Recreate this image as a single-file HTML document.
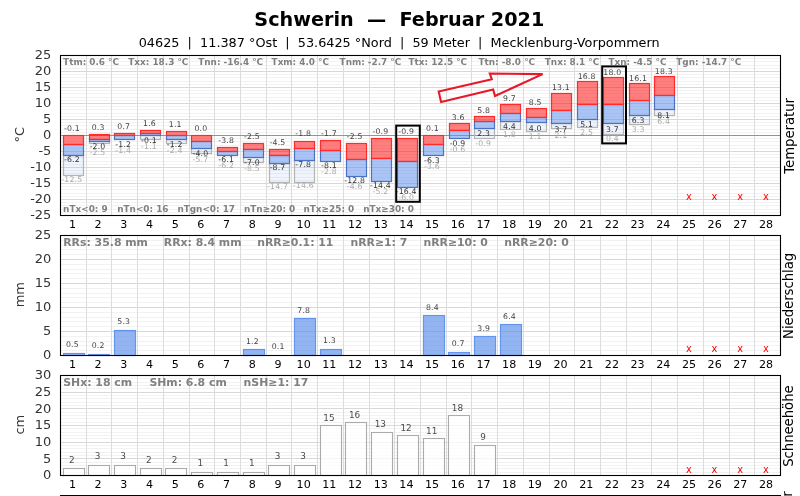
<!DOCTYPE html>
<html lang="de"><head><meta charset="utf-8"><title>Schwerin — Februar 2021</title>
<style>html,body{margin:0;padding:0;background:#fff;overflow:hidden}svg{display:block;will-change:transform}text{font-family:'DejaVu Sans', 'Liberation Sans', sans-serif}</style>
</head><body>
<svg width="800" height="496" viewBox="0 0 800 496">
<rect width="800" height="496" fill="#fff"/>
<text x="399.3" y="26" font-size="19.2" font-weight="bold" fill="#000" text-anchor="middle" xml:space="preserve">Schwerin  —  Februar 2021</text>
<text x="399.2" y="46.6" font-size="12.82" fill="#000" text-anchor="middle" xml:space="preserve">04625  |  11.387 °Ost  |  53.6425 °Nord  |  59 Meter  |  Mecklenburg-Vorpommern</text>
<path d="M60.5 212.5H780.5M60.5 209.5H780.5M60.5 205.5H780.5M60.5 202.5H780.5M60.5 196.5H780.5M60.5 193.5H780.5M60.5 189.5H780.5M60.5 186.5H780.5M60.5 180.5H780.5M60.5 177.5H780.5M60.5 173.5H780.5M60.5 170.5H780.5M60.5 164.5H780.5M60.5 161.5H780.5M60.5 157.5H780.5M60.5 154.5H780.5M60.5 148.5H780.5M60.5 145.5H780.5M60.5 141.5H780.5M60.5 138.5H780.5M60.5 132.5H780.5M60.5 129.5H780.5M60.5 125.5H780.5M60.5 122.5H780.5M60.5 116.5H780.5M60.5 113.5H780.5M60.5 109.5H780.5M60.5 106.5H780.5M60.5 100.5H780.5M60.5 97.5H780.5M60.5 93.5H780.5M60.5 90.5H780.5M60.5 84.5H780.5M60.5 81.5H780.5M60.5 77.5H780.5M60.5 74.5H780.5M60.5 68.5H780.5M60.5 65.5H780.5M60.5 61.5H780.5M60.5 58.5H780.5" stroke="#f2f2f2" stroke-width="1" fill="none"/>
<path d="M60.5 199.5H780.5M60.5 183.5H780.5M60.5 167.5H780.5M60.5 151.5H780.5M60.5 135.5H780.5M60.5 119.5H780.5M60.5 103.5H780.5M60.5 87.5H780.5M60.5 71.5H780.5" stroke="#d8d8d8" stroke-width="1" fill="none"/>
<path d="M86.5 55.5V215.5M111.5 55.5V215.5M137.5 55.5V215.5M163.5 55.5V215.5M189.5 55.5V215.5M214.5 55.5V215.5M240.5 55.5V215.5M266.5 55.5V215.5M291.5 55.5V215.5M317.5 55.5V215.5M343.5 55.5V215.5M369.5 55.5V215.5M394.5 55.5V215.5M420.5 55.5V215.5M446.5 55.5V215.5M471.5 55.5V215.5M497.5 55.5V215.5M523.5 55.5V215.5M549.5 55.5V215.5M574.5 55.5V215.5M600.5 55.5V215.5M626.5 55.5V215.5M651.5 55.5V215.5M677.5 55.5V215.5M703.5 55.5V215.5M729.5 55.5V215.5M754.5 55.5V215.5" stroke="#dcdcdc" stroke-width="1" fill="none"/>
<path d="M60.5 135.5H780.5" stroke="#6f97e8" stroke-width="1.2" fill="none"/>
<rect x="63.5" y="155.5" width="20" height="20" fill="rgba(100,149,237,0.10)" stroke="#b4b4b4" stroke-width="1.2"/>
<rect x="89.5" y="141.5" width="20" height="2" fill="rgba(100,149,237,0.10)" stroke="#b4b4b4" stroke-width="1.2"/>
<rect x="114.5" y="139.5" width="20" height="0" fill="rgba(100,149,237,0.10)" stroke="#b4b4b4" stroke-width="1.2"/>
<rect x="140.5" y="135.5" width="20" height="4" fill="rgba(100,149,237,0.10)" stroke="#b4b4b4" stroke-width="1.2"/>
<rect x="166.5" y="139.5" width="20" height="4" fill="rgba(100,149,237,0.10)" stroke="#b4b4b4" stroke-width="1.2"/>
<rect x="191.5" y="148.5" width="20" height="5" fill="rgba(100,149,237,0.10)" stroke="#b4b4b4" stroke-width="1.2"/>
<rect x="217.5" y="155.5" width="20" height="0" fill="rgba(100,149,237,0.10)" stroke="#b4b4b4" stroke-width="1.2"/>
<rect x="243.5" y="157.5" width="20" height="5" fill="rgba(100,149,237,0.10)" stroke="#b4b4b4" stroke-width="1.2"/>
<rect x="269.5" y="163.5" width="20" height="19" fill="rgba(100,149,237,0.10)" stroke="#b4b4b4" stroke-width="1.2"/>
<rect x="294.5" y="160.5" width="20" height="22" fill="rgba(100,149,237,0.10)" stroke="#b4b4b4" stroke-width="1.2"/>
<rect x="474.5" y="128.5" width="20" height="10" fill="rgba(100,149,237,0.10)" stroke="#b4b4b4" stroke-width="1.2"/>
<rect x="500.5" y="121.5" width="20" height="8" fill="rgba(100,149,237,0.10)" stroke="#b4b4b4" stroke-width="1.2"/>
<rect x="526.5" y="122.5" width="20" height="9" fill="rgba(100,149,237,0.10)" stroke="#b4b4b4" stroke-width="1.2"/>
<rect x="551.5" y="123.5" width="20" height="5" fill="rgba(100,149,237,0.10)" stroke="#b4b4b4" stroke-width="1.2"/>
<rect x="577.5" y="119.5" width="20" height="8" fill="rgba(100,149,237,0.10)" stroke="#b4b4b4" stroke-width="1.2"/>
<rect x="603.5" y="123.5" width="20" height="11" fill="rgba(100,149,237,0.10)" stroke="#b4b4b4" stroke-width="1.2"/>
<rect x="629.5" y="115.5" width="20" height="9" fill="rgba(100,149,237,0.10)" stroke="#b4b4b4" stroke-width="1.2"/>
<rect x="654.5" y="109.5" width="20" height="6" fill="rgba(100,149,237,0.10)" stroke="#b4b4b4" stroke-width="1.2"/>
<rect x="63.5" y="144.5" width="20" height="11" fill="rgba(100,149,237,0.55)" stroke="#4b72c4" stroke-width="1.2"/>
<rect x="63.5" y="135.5" width="20" height="9" fill="rgba(255,0,0,0.5)" stroke="#ff2a2a" stroke-width="1.2"/>
<rect x="89.5" y="139.5" width="20" height="2" fill="rgba(100,149,237,0.55)" stroke="#4b72c4" stroke-width="1.2"/>
<rect x="89.5" y="134.5" width="20" height="5" fill="rgba(255,0,0,0.5)" stroke="#ff2a2a" stroke-width="1.2"/>
<rect x="114.5" y="135.5" width="20" height="4" fill="rgba(100,149,237,0.55)" stroke="#4b72c4" stroke-width="1.2"/>
<rect x="114.5" y="133.5" width="20" height="2" fill="rgba(255,0,0,0.5)" stroke="#ff2a2a" stroke-width="1.2"/>
<rect x="140.5" y="133.5" width="20" height="2" fill="rgba(100,149,237,0.55)" stroke="#4b72c4" stroke-width="1.2"/>
<rect x="140.5" y="130.5" width="20" height="3" fill="rgba(255,0,0,0.5)" stroke="#ff2a2a" stroke-width="1.2"/>
<rect x="166.5" y="135.5" width="20" height="4" fill="rgba(100,149,237,0.55)" stroke="#4b72c4" stroke-width="1.2"/>
<rect x="166.5" y="131.5" width="20" height="4" fill="rgba(255,0,0,0.5)" stroke="#ff2a2a" stroke-width="1.2"/>
<rect x="191.5" y="141.5" width="20" height="7" fill="rgba(100,149,237,0.55)" stroke="#4b72c4" stroke-width="1.2"/>
<rect x="191.5" y="135.5" width="20" height="6" fill="rgba(255,0,0,0.5)" stroke="#ff2a2a" stroke-width="1.2"/>
<rect x="217.5" y="151.5" width="20" height="4" fill="rgba(100,149,237,0.55)" stroke="#4b72c4" stroke-width="1.2"/>
<rect x="217.5" y="147.5" width="20" height="4" fill="rgba(255,0,0,0.5)" stroke="#ff2a2a" stroke-width="1.2"/>
<rect x="243.5" y="149.5" width="20" height="8" fill="rgba(100,149,237,0.55)" stroke="#4b72c4" stroke-width="1.2"/>
<rect x="243.5" y="143.5" width="20" height="6" fill="rgba(255,0,0,0.5)" stroke="#ff2a2a" stroke-width="1.2"/>
<rect x="269.5" y="155.5" width="20" height="8" fill="rgba(100,149,237,0.55)" stroke="#4b72c4" stroke-width="1.2"/>
<rect x="269.5" y="149.5" width="20" height="6" fill="rgba(255,0,0,0.5)" stroke="#ff2a2a" stroke-width="1.2"/>
<rect x="294.5" y="148.5" width="20" height="12" fill="rgba(100,149,237,0.55)" stroke="#4b72c4" stroke-width="1.2"/>
<rect x="294.5" y="141.5" width="20" height="7" fill="rgba(255,0,0,0.5)" stroke="#ff2a2a" stroke-width="1.2"/>
<rect x="320.5" y="150.5" width="20" height="11" fill="rgba(100,149,237,0.55)" stroke="#4b72c4" stroke-width="1.2"/>
<rect x="320.5" y="140.5" width="20" height="10" fill="rgba(255,0,0,0.5)" stroke="#ff2a2a" stroke-width="1.2"/>
<rect x="346.5" y="159.5" width="20" height="17" fill="rgba(100,149,237,0.55)" stroke="#4b72c4" stroke-width="1.2"/>
<rect x="346.5" y="143.5" width="20" height="16" fill="rgba(255,0,0,0.5)" stroke="#ff2a2a" stroke-width="1.2"/>
<rect x="371.5" y="158.5" width="20" height="23" fill="rgba(100,149,237,0.55)" stroke="#4b72c4" stroke-width="1.2"/>
<rect x="371.5" y="138.5" width="20" height="20" fill="rgba(255,0,0,0.5)" stroke="#ff2a2a" stroke-width="1.2"/>
<rect x="397.5" y="161.5" width="20" height="26" fill="rgba(100,149,237,0.55)" stroke="#4b72c4" stroke-width="1.2"/>
<rect x="397.5" y="138.5" width="20" height="23" fill="rgba(255,0,0,0.5)" stroke="#ff2a2a" stroke-width="1.2"/>
<rect x="423.5" y="144.5" width="20" height="11" fill="rgba(100,149,237,0.55)" stroke="#4b72c4" stroke-width="1.2"/>
<rect x="423.5" y="135.5" width="20" height="9" fill="rgba(255,0,0,0.5)" stroke="#ff2a2a" stroke-width="1.2"/>
<rect x="449.5" y="130.5" width="20" height="8" fill="rgba(100,149,237,0.55)" stroke="#4b72c4" stroke-width="1.2"/>
<rect x="449.5" y="123.5" width="20" height="7" fill="rgba(255,0,0,0.5)" stroke="#ff2a2a" stroke-width="1.2"/>
<rect x="474.5" y="121.5" width="20" height="7" fill="rgba(100,149,237,0.55)" stroke="#4b72c4" stroke-width="1.2"/>
<rect x="474.5" y="116.5" width="20" height="5" fill="rgba(255,0,0,0.5)" stroke="#ff2a2a" stroke-width="1.2"/>
<rect x="500.5" y="113.5" width="20" height="8" fill="rgba(100,149,237,0.55)" stroke="#4b72c4" stroke-width="1.2"/>
<rect x="500.5" y="104.5" width="20" height="9" fill="rgba(255,0,0,0.5)" stroke="#ff2a2a" stroke-width="1.2"/>
<rect x="526.5" y="117.5" width="20" height="5" fill="rgba(100,149,237,0.55)" stroke="#4b72c4" stroke-width="1.2"/>
<rect x="526.5" y="108.5" width="20" height="9" fill="rgba(255,0,0,0.5)" stroke="#ff2a2a" stroke-width="1.2"/>
<rect x="551.5" y="110.5" width="20" height="13" fill="rgba(100,149,237,0.55)" stroke="#4b72c4" stroke-width="1.2"/>
<rect x="551.5" y="93.5" width="20" height="17" fill="rgba(255,0,0,0.5)" stroke="#ff2a2a" stroke-width="1.2"/>
<rect x="577.5" y="104.5" width="20" height="15" fill="rgba(100,149,237,0.55)" stroke="#4b72c4" stroke-width="1.2"/>
<rect x="577.5" y="81.5" width="20" height="23" fill="rgba(255,0,0,0.5)" stroke="#ff2a2a" stroke-width="1.2"/>
<rect x="603.5" y="104.5" width="20" height="19" fill="rgba(100,149,237,0.55)" stroke="#4b72c4" stroke-width="1.2"/>
<rect x="603.5" y="77.5" width="20" height="27" fill="rgba(255,0,0,0.5)" stroke="#ff2a2a" stroke-width="1.2"/>
<rect x="629.5" y="100.5" width="20" height="15" fill="rgba(100,149,237,0.55)" stroke="#4b72c4" stroke-width="1.2"/>
<rect x="629.5" y="83.5" width="20" height="17" fill="rgba(255,0,0,0.5)" stroke="#ff2a2a" stroke-width="1.2"/>
<rect x="654.5" y="95.5" width="20" height="14" fill="rgba(100,149,237,0.55)" stroke="#4b72c4" stroke-width="1.2"/>
<rect x="654.5" y="76.5" width="20" height="19" fill="rgba(255,0,0,0.5)" stroke="#ff2a2a" stroke-width="1.2"/>
<g font-size="7.75" letter-spacing="0.18" text-anchor="middle">
<text x="71.86" y="131.21" fill="#444">-0.1</text>
<text x="71.86" y="162.36" fill="#333">-6.2</text>
<text x="71.86" y="181.7" fill="#aaaaaa">-12.5</text>
<text x="98.07" y="129.97" fill="#444">0.3</text>
<text x="97.57" y="149.28" fill="#333">-2.0</text>
<text x="97.57" y="155.38" fill="#aaaaaa">-2.5</text>
<text x="123.79" y="128.73" fill="#444">0.7</text>
<text x="123.29" y="146.79" fill="#333">-1.2</text>
<text x="123.29" y="152.89" fill="#aaaaaa">-1.4</text>
<text x="149.5" y="125.94" fill="#444">1.6</text>
<text x="149" y="143.36" fill="#333">-0.1</text>
<text x="149" y="149.46" fill="#aaaaaa">-1.1</text>
<text x="175.21" y="127.49" fill="#444">1.1</text>
<text x="174.71" y="146.79" fill="#333">-1.2</text>
<text x="174.71" y="152.89" fill="#aaaaaa">-2.4</text>
<text x="200.93" y="130.9" fill="#444">0.0</text>
<text x="200.43" y="155.51" fill="#333">-4.0</text>
<text x="200.43" y="161.61" fill="#aaaaaa">-5.7</text>
<text x="226.14" y="142.68" fill="#444">-3.8</text>
<text x="226.14" y="162.05" fill="#333">-6.1</text>
<text x="226.14" y="168.15" fill="#aaaaaa">-6.2</text>
<text x="251.86" y="138.65" fill="#444">-2.5</text>
<text x="251.86" y="164.86" fill="#333">-7.0</text>
<text x="251.86" y="170.96" fill="#aaaaaa">-8.5</text>
<text x="277.57" y="144.85" fill="#444">-4.5</text>
<text x="277.57" y="170.15" fill="#333">-8.7</text>
<text x="277.57" y="188.56" fill="#aaaaaa">-14.7</text>
<text x="303.29" y="136.48" fill="#444">-1.8</text>
<text x="303.29" y="167.35" fill="#333">-7.8</text>
<text x="303.29" y="188.25" fill="#aaaaaa">-14.6</text>
<text x="329" y="136.17" fill="#444">-1.7</text>
<text x="329" y="168.28" fill="#333">-8.1</text>
<text x="329" y="174.38" fill="#aaaaaa">-2.8</text>
<text x="354.71" y="138.65" fill="#444">-2.5</text>
<text x="354.71" y="182.92" fill="#333">-12.8</text>
<text x="354.71" y="189.02" fill="#aaaaaa">-4.6</text>
<text x="380.43" y="133.69" fill="#444">-0.9</text>
<text x="380.43" y="187.91" fill="#333">-14.4</text>
<text x="380.43" y="194.01" fill="#aaaaaa">-5.2</text>
<text x="406.14" y="133.69" fill="#444">-0.9</text>
<text x="406.14" y="194.14" fill="#333">-16.4</text>
<text x="406.14" y="200.24" fill="#aaaaaa">-6.0</text>
<text x="432.36" y="130.59" fill="#444">0.1</text>
<text x="431.86" y="162.67" fill="#333">-6.3</text>
<text x="431.86" y="168.77" fill="#aaaaaa">-3.6</text>
<text x="458.07" y="119.74" fill="#444">3.6</text>
<text x="457.57" y="145.85" fill="#333">-0.9</text>
<text x="457.57" y="151.95" fill="#aaaaaa">-0.6</text>
<text x="483.79" y="112.92" fill="#444">5.8</text>
<text x="483.79" y="135.89" fill="#333">2.3</text>
<text x="483.29" y="145.51" fill="#aaaaaa">-0.9</text>
<text x="509.5" y="100.83" fill="#444">9.7</text>
<text x="509.5" y="129.34" fill="#333">4.4</text>
<text x="509.5" y="137.08" fill="#aaaaaa">1.8</text>
<text x="535.21" y="104.55" fill="#444">8.5</text>
<text x="535.21" y="130.59" fill="#333">4.0</text>
<text x="535.21" y="139.27" fill="#aaaaaa">1.1</text>
<text x="560.93" y="90.29" fill="#444">13.1</text>
<text x="560.93" y="131.52" fill="#333">3.7</text>
<text x="560.93" y="137.62" fill="#aaaaaa">2.1</text>
<text x="586.64" y="78.82" fill="#444">16.8</text>
<text x="586.64" y="127.16" fill="#333">5.1</text>
<text x="586.64" y="134.9" fill="#aaaaaa">2.5</text>
<text x="612.36" y="75.1" fill="#444">18.0</text>
<text x="612.36" y="131.52" fill="#333">3.7</text>
<text x="612.36" y="141.45" fill="#aaaaaa">0.4</text>
<text x="638.07" y="80.99" fill="#444">16.1</text>
<text x="638.07" y="123.43" fill="#333">6.3</text>
<text x="638.07" y="132.4" fill="#aaaaaa">3.3</text>
<text x="663.79" y="74.17" fill="#444">18.3</text>
<text x="663.79" y="117.82" fill="#333">8.1</text>
<text x="663.79" y="123.92" fill="#aaaaaa">6.4</text>
</g>
<g font-size="9.8" fill="#ff0000" text-anchor="middle">
<text x="688.8" y="199.6">x</text>
<text x="714.51" y="199.6">x</text>
<text x="740.23" y="199.6">x</text>
<text x="765.94" y="199.6">x</text>
</g>
<rect x="396.2" y="125.6" width="23.6" height="76.2" fill="none" stroke="#000" stroke-width="2"/>
<rect x="602.2" y="66.4" width="23.8" height="77" fill="none" stroke="#000" stroke-width="2"/>
<polygon points="438.7,91.5 491.8,79.2 489.8,73.6 542.6,74.1 495,96 493.2,89.6 441.1,102.1" fill="none" stroke="#e81828" stroke-width="2.1" stroke-linejoin="miter"/>
<g font-size="8.9" font-weight="bold" fill="#808080">
<text x="63.1" y="64.7">Ttm: 0.6 °C</text>
<text x="128.3" y="64.7">Txx: 18.3 °C</text>
<text x="198.2" y="64.7">Tnn: -16.4 °C</text>
<text x="271.6" y="64.7">Txm: 4.0 °C</text>
<text x="339.6" y="64.7">Tnm: -2.7 °C</text>
<text x="408.5" y="64.7">Ttx: 12.5 °C</text>
<text x="478.4" y="64.7">Ttn: -8.0 °C</text>
<text x="544.8" y="64.7">Tnx: 8.1 °C</text>
<text x="608.4" y="64.7">Txn: -4.5 °C</text>
<text x="676.3" y="64.7">Tgn: -14.7 °C</text>
</g>
<g font-size="8.9" font-weight="bold" fill="#808080">
<text x="63.1" y="211.6">nTx&lt;0: 9</text>
<text x="117.2" y="211.6">nTn&lt;0: 16</text>
<text x="177.4" y="211.6">nTgn&lt;0: 17</text>
<text x="244" y="211.6">nTn≥20: 0</text>
<text x="303.5" y="211.6">nTx≥25: 0</text>
<text x="363.2" y="211.6">nTx≥30: 0</text>
</g>
<rect x="60.5" y="55.5" width="720" height="160" fill="none" stroke="#000" stroke-width="1.1"/>
<g font-size="13" fill="#333" text-anchor="end">
<text x="51.4" y="219.3">-25</text>
<text x="51.4" y="203.3">-20</text>
<text x="51.4" y="187.3">-15</text>
<text x="51.4" y="171.3">-10</text>
<text x="51.4" y="155.3">-5</text>
<text x="51.4" y="139.3">0</text>
<text x="51.4" y="123.3">5</text>
<text x="51.4" y="107.3">10</text>
<text x="51.4" y="91.3">15</text>
<text x="51.4" y="75.3">20</text>
<text x="51.4" y="59.3">25</text>
</g>
<g font-size="11.1" fill="#000" text-anchor="middle">
<text x="72.46" y="228.1">1</text>
<text x="98.15" y="228.1">2</text>
<text x="123.83" y="228.1">3</text>
<text x="149.52" y="228.1">4</text>
<text x="175.21" y="228.1">5</text>
<text x="200.9" y="228.1">6</text>
<text x="226.59" y="228.1">7</text>
<text x="252.28" y="228.1">8</text>
<text x="277.96" y="228.1">9</text>
<text x="303.65" y="228.1">10</text>
<text x="329.34" y="228.1">11</text>
<text x="355.03" y="228.1">12</text>
<text x="380.72" y="228.1">13</text>
<text x="406.41" y="228.1">14</text>
<text x="432.09" y="228.1">15</text>
<text x="457.78" y="228.1">16</text>
<text x="483.47" y="228.1">17</text>
<text x="509.16" y="228.1">18</text>
<text x="534.85" y="228.1">19</text>
<text x="560.54" y="228.1">20</text>
<text x="586.22" y="228.1">21</text>
<text x="611.91" y="228.1">22</text>
<text x="637.6" y="228.1">23</text>
<text x="663.29" y="228.1">24</text>
<text x="688.98" y="228.1">25</text>
<text x="714.67" y="228.1">26</text>
<text x="740.35" y="228.1">27</text>
<text x="766.04" y="228.1">28</text>
</g>
<text transform="translate(23.9 134.7) rotate(-90)" font-size="13" fill="#333" text-anchor="middle">°C</text>
<text transform="translate(794.4 135.9) rotate(-90)" font-size="13.2" fill="#000" text-anchor="middle">Temperatur</text>
<path d="M60.5 350.5H780.5M60.5 345.5H780.5M60.5 341.5H780.5M60.5 336.5H780.5M60.5 326.5H780.5M60.5 321.5H780.5M60.5 317.5H780.5M60.5 312.5H780.5M60.5 302.5H780.5M60.5 297.5H780.5M60.5 293.5H780.5M60.5 288.5H780.5M60.5 278.5H780.5M60.5 273.5H780.5M60.5 269.5H780.5M60.5 264.5H780.5M60.5 254.5H780.5M60.5 249.5H780.5M60.5 245.5H780.5M60.5 240.5H780.5" stroke="#f2f2f2" stroke-width="1" fill="none"/>
<path d="M60.5 331.5H780.5M60.5 307.5H780.5M60.5 283.5H780.5M60.5 259.5H780.5" stroke="#d8d8d8" stroke-width="1" fill="none"/>
<path d="M86.5 235.5V355.5M111.5 235.5V355.5M137.5 235.5V355.5M163.5 235.5V355.5M189.5 235.5V355.5M214.5 235.5V355.5M240.5 235.5V355.5M266.5 235.5V355.5M291.5 235.5V355.5M317.5 235.5V355.5M343.5 235.5V355.5M369.5 235.5V355.5M394.5 235.5V355.5M420.5 235.5V355.5M446.5 235.5V355.5M471.5 235.5V355.5M497.5 235.5V355.5M523.5 235.5V355.5M549.5 235.5V355.5M574.5 235.5V355.5M600.5 235.5V355.5M626.5 235.5V355.5M651.5 235.5V355.5M677.5 235.5V355.5M703.5 235.5V355.5M729.5 235.5V355.5M754.5 235.5V355.5" stroke="#dcdcdc" stroke-width="1" fill="none"/>
<rect x="63.5" y="353.5" width="21" height="2" fill="rgba(100,149,237,0.7)" stroke="#6495ed" stroke-width="1.2"/>
<rect x="88.5" y="354.5" width="21" height="1" fill="rgba(100,149,237,0.7)" stroke="#6495ed" stroke-width="1.2"/>
<rect x="114.5" y="330.5" width="21" height="25" fill="rgba(100,149,237,0.7)" stroke="#6495ed" stroke-width="1.2"/>
<rect x="243.5" y="349.5" width="21" height="6" fill="rgba(100,149,237,0.7)" stroke="#6495ed" stroke-width="1.2"/>
<rect x="268.5" y="355.5" width="21" height="0" fill="rgba(100,149,237,0.7)" stroke="#6495ed" stroke-width="1.2"/>
<rect x="294.5" y="318.5" width="21" height="37" fill="rgba(100,149,237,0.7)" stroke="#6495ed" stroke-width="1.2"/>
<rect x="320.5" y="349.5" width="21" height="6" fill="rgba(100,149,237,0.7)" stroke="#6495ed" stroke-width="1.2"/>
<rect x="423.5" y="315.5" width="21" height="40" fill="rgba(100,149,237,0.7)" stroke="#6495ed" stroke-width="1.2"/>
<rect x="448.5" y="352.5" width="21" height="3" fill="rgba(100,149,237,0.7)" stroke="#6495ed" stroke-width="1.2"/>
<rect x="474.5" y="336.5" width="21" height="19" fill="rgba(100,149,237,0.7)" stroke="#6495ed" stroke-width="1.2"/>
<rect x="500.5" y="324.5" width="21" height="31" fill="rgba(100,149,237,0.7)" stroke="#6495ed" stroke-width="1.2"/>
<g font-size="7.75" letter-spacing="0.18" text-anchor="middle" fill="#444">
<text x="72.36" y="346.77">0.5</text>
<text x="98.07" y="348.17">0.2</text>
<text x="123.79" y="324.4">5.3</text>
<text x="252.36" y="343.51">1.2</text>
<text x="278.07" y="348.63">0.1</text>
<text x="303.79" y="312.75">7.8</text>
<text x="329.5" y="343.04">1.3</text>
<text x="432.36" y="309.96">8.4</text>
<text x="458.07" y="345.84">0.7</text>
<text x="483.79" y="330.93">3.9</text>
<text x="509.5" y="319.28">6.4</text>
</g>
<g font-size="9.8" fill="#ff0000" text-anchor="middle">
<text x="688.8" y="351.8">x</text>
<text x="714.51" y="351.8">x</text>
<text x="740.23" y="351.8">x</text>
<text x="765.94" y="351.8">x</text>
</g>
<g font-size="10.9" font-weight="bold" fill="#808080">
<text x="63.2" y="245.7">RRs: 35.8 mm</text>
<text x="163.8" y="245.7">RRx: 8.4 mm</text>
<text x="257.2" y="245.7">nRR≥0.1: 11</text>
<text x="350.4" y="245.7">nRR≥1: 7</text>
<text x="423.4" y="245.7">nRR≥10: 0</text>
<text x="504.2" y="245.7">nRR≥20: 0</text>
</g>
<rect x="60.5" y="235.5" width="720" height="120" fill="none" stroke="#000" stroke-width="1.1"/>
<g font-size="13" fill="#333" text-anchor="end">
<text x="51.4" y="359.3">0</text>
<text x="51.4" y="335.3">5</text>
<text x="51.4" y="311.3">10</text>
<text x="51.4" y="287.3">15</text>
<text x="51.4" y="263.3">20</text>
<text x="51.4" y="239.3">25</text>
</g>
<g font-size="11.1" fill="#000" text-anchor="middle">
<text x="72.46" y="368.1">1</text>
<text x="98.15" y="368.1">2</text>
<text x="123.83" y="368.1">3</text>
<text x="149.52" y="368.1">4</text>
<text x="175.21" y="368.1">5</text>
<text x="200.9" y="368.1">6</text>
<text x="226.59" y="368.1">7</text>
<text x="252.28" y="368.1">8</text>
<text x="277.96" y="368.1">9</text>
<text x="303.65" y="368.1">10</text>
<text x="329.34" y="368.1">11</text>
<text x="355.03" y="368.1">12</text>
<text x="380.72" y="368.1">13</text>
<text x="406.41" y="368.1">14</text>
<text x="432.09" y="368.1">15</text>
<text x="457.78" y="368.1">16</text>
<text x="483.47" y="368.1">17</text>
<text x="509.16" y="368.1">18</text>
<text x="534.85" y="368.1">19</text>
<text x="560.54" y="368.1">20</text>
<text x="586.22" y="368.1">21</text>
<text x="611.91" y="368.1">22</text>
<text x="637.6" y="368.1">23</text>
<text x="663.29" y="368.1">24</text>
<text x="688.98" y="368.1">25</text>
<text x="714.67" y="368.1">26</text>
<text x="740.35" y="368.1">27</text>
<text x="766.04" y="368.1">28</text>
</g>
<text transform="translate(23.9 294.7) rotate(-90)" font-size="13" fill="#333" text-anchor="middle">mm</text>
<text transform="translate(792.6 295.9) rotate(-90)" font-size="13.2" fill="#000" text-anchor="middle">Niederschlag</text>
<path d="M60.5 472.5H780.5M60.5 468.5H780.5M60.5 465.5H780.5M60.5 462.5H780.5M60.5 455.5H780.5M60.5 452.5H780.5M60.5 448.5H780.5M60.5 445.5H780.5M60.5 438.5H780.5M60.5 435.5H780.5M60.5 432.5H780.5M60.5 428.5H780.5M60.5 422.5H780.5M60.5 418.5H780.5M60.5 415.5H780.5M60.5 412.5H780.5M60.5 405.5H780.5M60.5 402.5H780.5M60.5 398.5H780.5M60.5 395.5H780.5M60.5 388.5H780.5M60.5 385.5H780.5M60.5 382.5H780.5M60.5 378.5H780.5" stroke="#f2f2f2" stroke-width="1" fill="none"/>
<path d="M60.5 458.5H780.5M60.5 442.5H780.5M60.5 425.5H780.5M60.5 408.5H780.5M60.5 392.5H780.5" stroke="#d8d8d8" stroke-width="1" fill="none"/>
<path d="M86.5 375.5V475.5M111.5 375.5V475.5M137.5 375.5V475.5M163.5 375.5V475.5M189.5 375.5V475.5M214.5 375.5V475.5M240.5 375.5V475.5M266.5 375.5V475.5M291.5 375.5V475.5M317.5 375.5V475.5M343.5 375.5V475.5M369.5 375.5V475.5M394.5 375.5V475.5M420.5 375.5V475.5M446.5 375.5V475.5M471.5 375.5V475.5M497.5 375.5V475.5M523.5 375.5V475.5M549.5 375.5V475.5M574.5 375.5V475.5M600.5 375.5V475.5M626.5 375.5V475.5M651.5 375.5V475.5M677.5 375.5V475.5M703.5 375.5V475.5M729.5 375.5V475.5M754.5 375.5V475.5" stroke="#dcdcdc" stroke-width="1" fill="none"/>
<rect x="63.5" y="468.5" width="21" height="7" fill="rgba(255,255,255,0.75)" stroke="#ababab" stroke-width="1.1"/>
<rect x="88.5" y="465.5" width="21" height="10" fill="rgba(255,255,255,0.75)" stroke="#ababab" stroke-width="1.1"/>
<rect x="114.5" y="465.5" width="21" height="10" fill="rgba(255,255,255,0.75)" stroke="#ababab" stroke-width="1.1"/>
<rect x="140.5" y="468.5" width="21" height="7" fill="rgba(255,255,255,0.75)" stroke="#ababab" stroke-width="1.1"/>
<rect x="165.5" y="468.5" width="21" height="7" fill="rgba(255,255,255,0.75)" stroke="#ababab" stroke-width="1.1"/>
<rect x="191.5" y="472.5" width="21" height="3" fill="rgba(255,255,255,0.75)" stroke="#ababab" stroke-width="1.1"/>
<rect x="217.5" y="472.5" width="21" height="3" fill="rgba(255,255,255,0.75)" stroke="#ababab" stroke-width="1.1"/>
<rect x="243.5" y="472.5" width="21" height="3" fill="rgba(255,255,255,0.75)" stroke="#ababab" stroke-width="1.1"/>
<rect x="268.5" y="465.5" width="21" height="10" fill="rgba(255,255,255,0.75)" stroke="#ababab" stroke-width="1.1"/>
<rect x="294.5" y="465.5" width="21" height="10" fill="rgba(255,255,255,0.75)" stroke="#ababab" stroke-width="1.1"/>
<rect x="320.5" y="425.5" width="21" height="50" fill="rgba(255,255,255,0.75)" stroke="#ababab" stroke-width="1.1"/>
<rect x="345.5" y="422.5" width="21" height="53" fill="rgba(255,255,255,0.75)" stroke="#ababab" stroke-width="1.1"/>
<rect x="371.5" y="432.5" width="21" height="43" fill="rgba(255,255,255,0.75)" stroke="#ababab" stroke-width="1.1"/>
<rect x="397.5" y="435.5" width="21" height="40" fill="rgba(255,255,255,0.75)" stroke="#ababab" stroke-width="1.1"/>
<rect x="423.5" y="438.5" width="21" height="37" fill="rgba(255,255,255,0.75)" stroke="#ababab" stroke-width="1.1"/>
<rect x="448.5" y="415.5" width="21" height="60" fill="rgba(255,255,255,0.75)" stroke="#ababab" stroke-width="1.1"/>
<rect x="474.5" y="445.5" width="21" height="30" fill="rgba(255,255,255,0.75)" stroke="#ababab" stroke-width="1.1"/>
<g font-size="8.9" text-anchor="middle" fill="#4c4c4c">
<text x="71.76" y="462.67">2</text>
<text x="97.47" y="459.46">3</text>
<text x="123.19" y="459.46">3</text>
<text x="148.9" y="462.67">2</text>
<text x="174.61" y="462.67">2</text>
<text x="200.33" y="465.89">1</text>
<text x="226.04" y="465.89">1</text>
<text x="251.76" y="465.89">1</text>
<text x="277.47" y="459.46">3</text>
<text x="303.19" y="459.46">3</text>
<text x="328.9" y="420.9">15</text>
<text x="354.61" y="417.69">16</text>
<text x="380.33" y="427.33">13</text>
<text x="406.04" y="430.54">12</text>
<text x="431.76" y="433.75">11</text>
<text x="457.47" y="411.26">18</text>
<text x="483.19" y="440.18">9</text>
</g>
<g font-size="9.8" fill="#ff0000" text-anchor="middle">
<text x="688.8" y="472.5">x</text>
<text x="714.51" y="472.5">x</text>
<text x="740.23" y="472.5">x</text>
<text x="765.94" y="472.5">x</text>
</g>
<g font-size="10.9" font-weight="bold" fill="#808080">
<text x="63.2" y="385.6">SHx: 18 cm</text>
<text x="149.4" y="385.6">SHm: 6.8 cm</text>
<text x="243.6" y="385.6">nSH≥1: 17</text>
</g>
<rect x="60.5" y="375.5" width="720" height="100" fill="none" stroke="#000" stroke-width="1.1"/>
<g font-size="13" fill="#333" text-anchor="end">
<text x="51.4" y="479.3">0</text>
<text x="51.4" y="462.63">5</text>
<text x="51.4" y="445.97">10</text>
<text x="51.4" y="429.3">15</text>
<text x="51.4" y="412.63">20</text>
<text x="51.4" y="395.97">25</text>
<text x="51.4" y="379.3">30</text>
</g>
<g font-size="11.1" fill="#000" text-anchor="middle">
<text x="72.46" y="488.1">1</text>
<text x="98.15" y="488.1">2</text>
<text x="123.83" y="488.1">3</text>
<text x="149.52" y="488.1">4</text>
<text x="175.21" y="488.1">5</text>
<text x="200.9" y="488.1">6</text>
<text x="226.59" y="488.1">7</text>
<text x="252.28" y="488.1">8</text>
<text x="277.96" y="488.1">9</text>
<text x="303.65" y="488.1">10</text>
<text x="329.34" y="488.1">11</text>
<text x="355.03" y="488.1">12</text>
<text x="380.72" y="488.1">13</text>
<text x="406.41" y="488.1">14</text>
<text x="432.09" y="488.1">15</text>
<text x="457.78" y="488.1">16</text>
<text x="483.47" y="488.1">17</text>
<text x="509.16" y="488.1">18</text>
<text x="534.85" y="488.1">19</text>
<text x="560.54" y="488.1">20</text>
<text x="586.22" y="488.1">21</text>
<text x="611.91" y="488.1">22</text>
<text x="637.6" y="488.1">23</text>
<text x="663.29" y="488.1">24</text>
<text x="688.98" y="488.1">25</text>
<text x="714.67" y="488.1">26</text>
<text x="740.35" y="488.1">27</text>
<text x="766.04" y="488.1">28</text>
</g>
<text transform="translate(23.9 424.7) rotate(-90)" font-size="13" fill="#333" text-anchor="middle">cm</text>
<text transform="translate(792.6 426.1) rotate(-90)" font-size="13.2" fill="#000" text-anchor="middle">Schneehöhe</text>
<path d="M60.5 496V495.5H780.5V496" stroke="#000" stroke-width="1.1" fill="none"/>
<text transform="translate(792.4 556.5) rotate(-90)" font-size="13.2" fill="#000" text-anchor="middle">Sonnenscheindauer</text>
</svg>
</body></html>
